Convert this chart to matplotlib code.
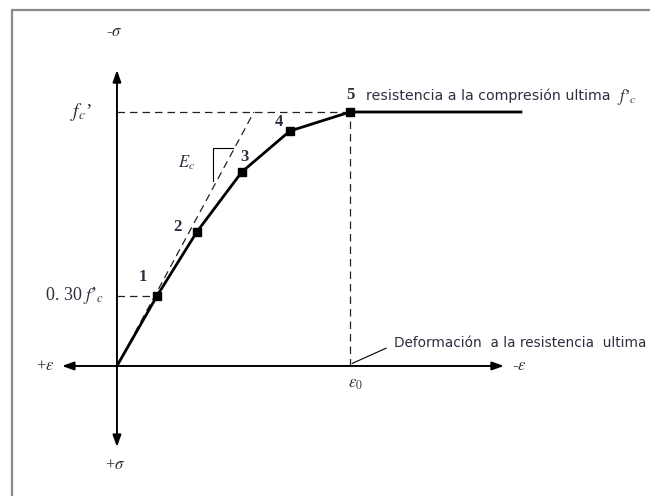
import matplotlib
matplotlib.use("Agg")
import matplotlib.pyplot as plt
from matplotlib.patches import Rectangle

# ---- data (normalised: strain / eps0, stress / f'c) ----
strain = [0.0, 0.172, 0.343, 0.536, 0.742, 1.0, 1.734]
stress = [0.0, 0.276, 0.528, 0.764, 0.925, 1.0, 1.0]
point_labels = ["1", "2", "3", "4", "5"]
ec_top = [0.588, 1.0]          # end of the tangent (E_c) line
tri_x = [0.412, 0.498]
tri_y = [0.728, 0.858]

TXT = "#2e2e40"
fig = plt.figure(figsize=(6.5, 4.96), dpi=100)
ax = fig.add_axes([0, 0, 1, 1])
ax.set_xlim(-0.502, 2.288)
ax.set_ylim(-0.512, 1.441)
ax.axis("off")

# frame (top-left corner visible, continues past the right and bottom edges)
ax.add_patch(Rectangle((0.018, -0.5), 1.5, 1.48, transform=ax.transAxes,
                       fill=False, ec="#8a8a8a", lw=1.6, clip_on=True))

# axes with arrows
ap = dict(arrowstyle="-|>,head_length=0.7,head_width=0.25", color="black", lw=1.4,
          shrinkA=0, shrinkB=0)
ax.annotate("", xy=(1.661, 0), xytext=(0, 0), arrowprops=ap)
ax.annotate("", xy=(-0.236, 0), xytext=(0, 0), arrowprops=ap)
ax.annotate("", xy=(0, 1.165), xytext=(0, 0), arrowprops=ap)
ax.annotate("", xy=(0, -0.319), xytext=(0, 0), arrowprops=ap)

dash = dict(color="#222222", lw=0.9, ls=(0, (6, 4)))
# dashed guides
ax.plot([0, strain[5]], [stress[5], stress[5]], **dash)
ax.plot([strain[5], strain[5]], [0, stress[5]], **dash)
ax.plot([0, strain[1]], [stress[1], stress[1]], **dash)
ax.plot([0, ec_top[0]], [0, ec_top[1]], **dash)
# small triangle for E_c
ax.plot([tri_x[1], tri_x[0], tri_x[0]], [tri_y[1], tri_y[1], tri_y[0]],
        color="black", lw=0.8)

# curve
ax.plot(strain, stress, color="black", lw=2.0, solid_joinstyle="miter")
ax.plot(strain[1:6], stress[1:6], ls="none", marker="s", ms=5.5, color="black")

# point labels
sfont = dict(family="Liberation Serif", color=TXT, fontsize=12, weight="bold")
offs = [(-0.06, 0.075), (-0.085, 0.02), (0.012, 0.06), (-0.045, 0.035), (0.004, 0.068)]
for (dx, dy), lab, x, y in zip(offs, point_labels, strain[1:6], stress[1:6]):
    ax.text(x + dx, y + dy, lab, ha="center", va="center", **sfont)

mfont = dict(family="Liberation Serif", math_fontfamily="stix", color=TXT)
ax.text(0.30, 0.80, r"$E_c$", ha="center", va="center", fontsize=12, **mfont)
ax.text(-0.155, 1.0, r"$f_c$’", ha="center", va="center", fontsize=14, **mfont)
ax.text(-0.055, 0.276, r"0. 30 $f$’$_c$", ha="right", va="center",
        fontsize=13, **mfont)
ax.text(-0.01, 1.315, r"-$\sigma$", ha="center", va="center", fontsize=12, **mfont)
ax.text(-0.01, -0.39, r"+$\sigma$", ha="center", va="center", fontsize=12, **mfont)
ax.text(-0.31, 0.0, r"+$\varepsilon$", ha="center", va="center", fontsize=12, **mfont)
ax.text(1.725, 0.0, r"-$\varepsilon$", ha="center", va="center", fontsize=12, **mfont)
ax.text(1.025, -0.07, r"$\varepsilon_0$", ha="center", va="center", fontsize=12, **mfont)

# annotations
ax.text(1.07, 1.065, "resistencia a la compresión ultima", ha="left", va="center",
        color=TXT, fontsize=10.2, family="DejaVu Sans")
ax.text(2.145, 1.06, r"$f$’$_c$", ha="left", va="center", fontsize=12, **mfont)
ax.plot([1.01, 1.155], [0.01, 0.07], color="black", lw=0.8)
ax.text(1.19, 0.09, "Deformación  a la resistencia  ultima", ha="left", va="center",
        color=TXT, fontsize=9.8, family="DejaVu Sans")

fig.savefig("out.png", dpi=100)
